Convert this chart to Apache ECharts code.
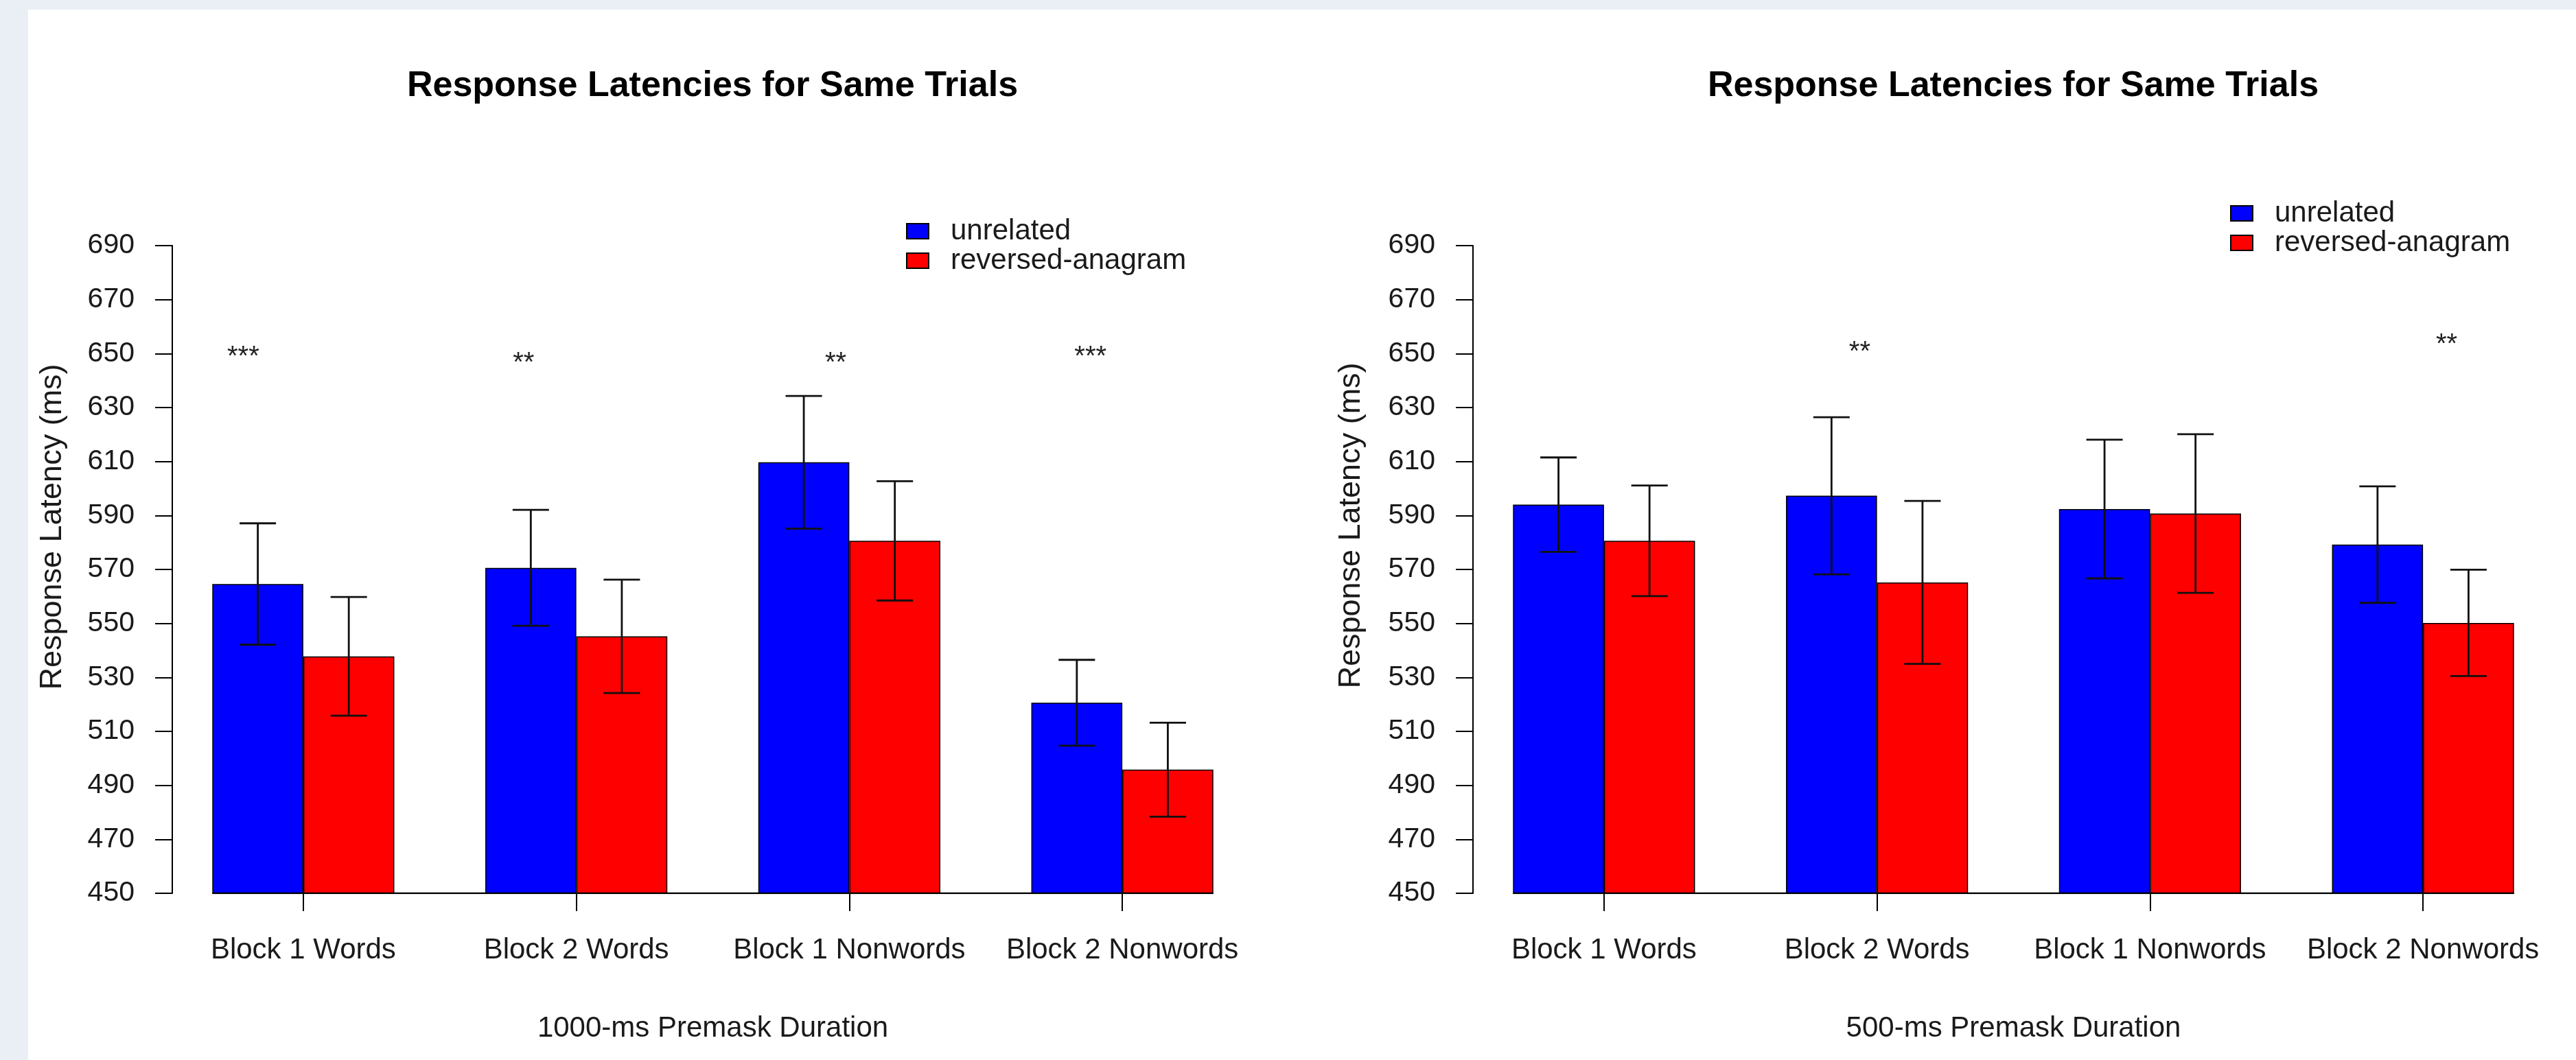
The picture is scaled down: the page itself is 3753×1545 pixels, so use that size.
<!DOCTYPE html>
<html>
<head>
<meta charset="utf-8">
<title>Response Latencies for Same Trials</title>
<script src="https://cdn.jsdelivr.net/npm/echarts@6/dist/echarts.min.js"></script>
<style>
  html, body { margin: 0; padding: 0; background: #ffffff; }
  #chart { width: 3753px; height: 1545px; }
</style>
</head>
<body>
<div id="chart"></div>
<script>
// ---- data ----
const categories = ['Block 1 Words', 'Block 2 Words', 'Block 1 Nonwords', 'Block 2 Nonwords'];
const seriesNames = ['unrelated', 'reversed-anagram'];
const yMin = 450;
const yMax = 690;
const yStep = 20;

// 1000-ms premask duration: mean latencies and error-bar half-widths
const longUnrelated = [564.6, 570.6, 609.7, 520.6];
const longReversed = [537.8, 545.2, 580.6, 495.8];
const longUnrelatedErr = [22.5, 21.5, 24.6, 15.9];
const longReversedErr = [22.0, 21.0, 22.1, 17.4];
// significance markers (x in bar-width units, y in ms)
const longStarText = ['***', '**', '**', '***'];
const longStarX = [1.34, 4.42, 7.85, 10.65];
const longStarY = [650.9, 648.7, 648.7, 650.9];

// 500-ms premask duration
const shortUnrelated = [594.0, 597.3, 592.4, 579.2];
const shortReversed = [580.6, 565.2, 590.7, 550.2];
const shortUnrelatedErr = [17.5, 29.1, 25.7, 21.6];
const shortReversedErr = [20.5, 30.2, 29.4, 19.7];
const shortStarText = ['**', '**'];
const shortStarX = [4.81, 11.26];
const shortStarY = [652.7, 655.4];

const panelTitle = 'Response Latencies for Same Trials';
const yTitle = 'Response Latency (ms)';
const xTitles = ['1000-ms Premask Duration', '500-ms Premask Duration'];

// ---- styling ----
const FONT = '"Liberation Sans", Arial, Helvetica, sans-serif';
const INK = '#1a1a1a';
const BLUE = '#0000ff';
const RED = '#ff0000';

const panels = [
  {
    unrelated: longUnrelated, reversed: longReversed,
    unrelatedErr: longUnrelatedErr, reversedErr: longReversedErr,
    starText: longStarText, starX: longStarX, starY: longStarY,
    grid: { left: 243, top: 358, width: 1591, height: 944 },
    legend: { left: 1320, top: 316 },
    titleX: 1038, yTitleX: 77, yTitleY: 768
  },
  {
    unrelated: shortUnrelated, reversed: shortReversed,
    unrelatedErr: shortUnrelatedErr, reversedErr: shortReversedErr,
    starText: shortStarText, starX: shortStarX, starY: shortStarY,
    grid: { left: 2138, top: 358, width: 1591, height: 944 },
    legend: { left: 3249, top: 290 },
    titleX: 2933, yTitleX: 1969, yTitleY: 766
  }
];

// each category occupies 3 bar-width units: gap, unrelated bar, reversed bar
const UNITS_PER_GROUP = 3;

const grids = [], xAxes = [], yAxes = [], series = [], legends = [], graphics = [];

graphics.push(
  { type: 'rect', silent: true, z: -10, shape: { x: 0, y: 0, width: 41, height: 1545 }, style: { fill: '#eaeef5' } },
  { type: 'rect', silent: true, z: -10, shape: { x: 0, y: 0, width: 3753, height: 14 }, style: { fill: '#eaeef5' } }
);

panels.forEach((p, i) => {
  grids.push(Object.assign({ containLabel: false }, p.grid));

  // visible category axis (ticks + labels + x title)
  xAxes.push({
    gridIndex: i,
    type: 'category',
    data: categories,
    axisLine: { show: false },
    axisTick: { show: true, interval: 0, alignWithLabel: true, length: 26, lineStyle: { color: '#000', width: 2 } },
    axisLabel: { interval: 0, margin: 62, fontSize: 42, fontFamily: FONT, color: INK },
    name: xTitles[i],
    nameLocation: 'middle',
    nameGap: 176,
    nameTextStyle: { fontSize: 42, fontFamily: FONT, color: INK },
    splitLine: { show: false }
  });
  // hidden linear axis in bar-width units spanning the same pixels
  xAxes.push({
    gridIndex: i,
    type: 'value',
    min: 0.5,
    max: categories.length * UNITS_PER_GROUP + 0.5,
    show: false
  });

  yAxes.push({
    gridIndex: i,
    type: 'value',
    min: yMin,
    max: yMax,
    interval: yStep,
    offset: -8,
    axisLine: { show: true, lineStyle: { color: '#000', width: 2 } },
    axisTick: { show: true, length: 25, lineStyle: { color: '#000', width: 2 } },
    axisLabel: { margin: 55, fontSize: 41, fontFamily: FONT, color: INK },
    splitLine: { show: false }
  });

  const catAxis = 2 * i, unitAxis = 2 * i + 1;

  series.push({
    name: seriesNames[0], type: 'bar', xAxisIndex: catAxis, yAxisIndex: i,
    data: p.unrelated, barGap: '0%', barCategoryGap: '33.333%',
    itemStyle: { color: BLUE, borderColor: '#000', borderWidth: 1.5 }, z: 2
  });
  series.push({
    name: seriesNames[1], type: 'bar', xAxisIndex: catAxis, yAxisIndex: i,
    data: p.reversed, barGap: '0%', barCategoryGap: '33.333%',
    itemStyle: { color: RED, borderColor: '#000', borderWidth: 1.5 }, z: 2
  });

  // baseline under the bars, from the first bar's left edge to the last bar's right edge
  series.push({
    type: 'line', xAxisIndex: unitAxis, yAxisIndex: i, symbol: 'none', silent: true,
    data: [[1, yMin], [categories.length * UNITS_PER_GROUP, yMin]],
    lineStyle: { color: '#000', width: 2.5 }, z: 3
  });

  // error bars: centred on each bar
  const errData = [];
  categories.forEach((c, k) => {
    const base = k * UNITS_PER_GROUP;
    errData.push([base + 1.5, p.unrelated[k] - p.unrelatedErr[k], p.unrelated[k] + p.unrelatedErr[k]]);
    errData.push([base + 2.5, p.reversed[k] - p.reversedErr[k], p.reversed[k] + p.reversedErr[k]]);
  });
  series.push({
    type: 'custom', xAxisIndex: unitAxis, yAxisIndex: i, silent: true, z: 4,
    data: errData,
    renderItem: (params, api) => {
      const x = api.value(0);
      const lo = api.coord([x, api.value(1)]);
      const hi = api.coord([x, api.value(2)]);
      const half = api.size([0.2, 0])[0];
      const st = { stroke: '#111', lineWidth: 2.8 };
      return {
        type: 'group',
        children: [
          { type: 'line', shape: { x1: lo[0], y1: lo[1], x2: hi[0], y2: hi[1] }, style: st },
          { type: 'line', shape: { x1: hi[0] - half, y1: hi[1], x2: hi[0] + half, y2: hi[1] }, style: st },
          { type: 'line', shape: { x1: lo[0] - half, y1: lo[1], x2: lo[0] + half, y2: lo[1] }, style: st }
        ]
      };
    }
  });

  // significance markers
  const starSize = 40;
  series.push({
    type: 'custom', xAxisIndex: unitAxis, yAxisIndex: i, silent: true, z: 5,
    data: p.starX.map((x, k) => [x, p.starY[k]]),
    renderItem: (params, api) => {
      const pt = api.coord([api.value(0), api.value(1)]);
      return {
        type: 'text',
        x: pt[0], y: pt[1] + starSize * 0.23,
        style: {
          text: p.starText[params.dataIndex],
          textAlign: 'center', textVerticalAlign: 'middle',
          font: starSize + 'px ' + FONT, fill: '#222'
        }
      };
    }
  });

  legends.push({
    data: seriesNames,
    left: p.legend.left, top: p.legend.top,
    orient: 'vertical', padding: 0,
    icon: 'rect', itemWidth: 32, itemHeight: 22, itemGap: 1,
    selectedMode: false,
    textStyle: { fontSize: 42, fontFamily: FONT, color: INK, padding: [0, 0, 0, 27] }
  });

  graphics.push({
    type: 'text', x: p.titleX, y: 126, silent: true,
    style: { text: panelTitle, textAlign: 'center', textVerticalAlign: 'middle',
             font: 'bold 52px ' + FONT, fill: '#000' }
  });
  graphics.push({
    type: 'text', x: p.yTitleX, y: p.yTitleY, rotation: Math.PI / 2, silent: true,
    style: { text: yTitle, textAlign: 'center', textVerticalAlign: 'middle',
             font: '45px ' + FONT, fill: INK }
  });
});

const chart = echarts.init(document.getElementById('chart'), null, { renderer: 'canvas' });
chart.setOption({
  backgroundColor: '#ffffff',
  animation: false,
  textStyle: { fontFamily: FONT },
  grid: grids,
  xAxis: xAxes,
  yAxis: yAxes,
  legend: legends,
  series: series,
  graphic: graphics
});
</script>
</body>
</html>
